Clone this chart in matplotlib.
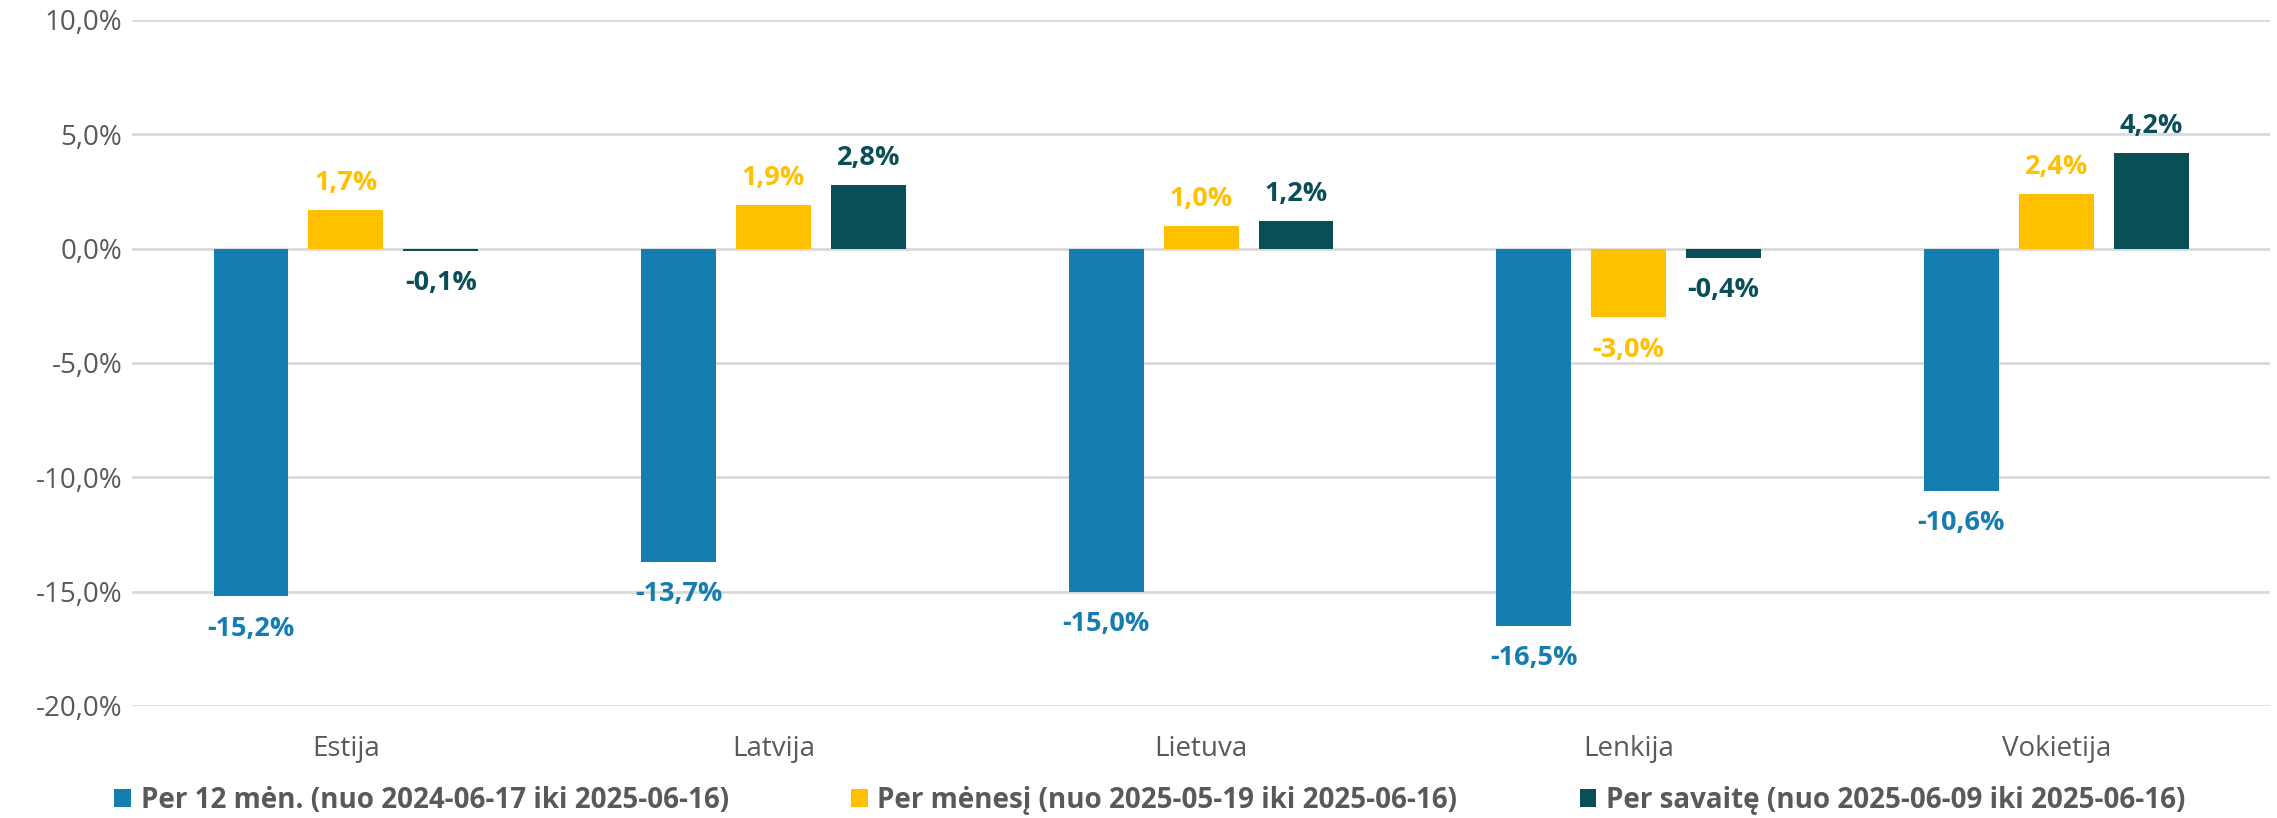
import numpy as np
import matplotlib
matplotlib.use("Agg")
import matplotlib.pyplot as plt
from matplotlib.ticker import FuncFormatter

plt.rcParams['font.family'] = ['Open Sans', 'DejaVu Sans']

# data
countries = ["Estija", "Latvija", "Lietuva", "Lenkija", "Vokietija"]
per_12m = [-15.2, -13.7, -15.0, -16.5, -10.6]
per_month = [1.7, 1.9, 1.0, -3.0, 2.4]
per_week = [-0.1, 2.8, 1.2, -0.4, 4.2]
series_names = [
    "Per 12 mėn. (nuo 2024-06-17 iki 2025-06-16)",
    "Per mėnesį (nuo 2025-05-19 iki 2025-06-16)",
    "Per savaitę (nuo 2025-06-09 iki 2025-06-16)",
]
colors = ["#157DB0", "#FFC000", "#0A4F57"]

def pct(v):
    return f"{v:.1f}%".replace(".", ",")

fig = plt.figure(figsize=(22.77, 8.18), dpi=100)
ax = fig.add_axes([0.058, 0.137, 0.939, 0.8386])

x = np.arange(len(countries))
width = 0.175
step = 0.222
series = [per_12m, per_month, per_week]

for i, (vals, col, name) in enumerate(zip(series, colors, series_names)):
    pos = x + (i - 1) * step
    ax.bar(pos, vals, width, color=col, label=name, zorder=3)
    for p, v in zip(pos, vals):
        if v >= 0:
            ax.annotate(pct(v), (p, v), xytext=(0, 10), textcoords="offset points",
                        ha="center", va="bottom", fontsize=19.5, fontweight="bold", color=col)
        else:
            ax.annotate(pct(v), (p, v), xytext=(0, -14), textcoords="offset points",
                        ha="center", va="top", fontsize=19.5, fontweight="bold", color=col)

ax.set_xlim(-0.5, len(countries) - 0.5)
ax.set_ylim(-20, 10)
ax.set_yticks(np.arange(-20, 10.1, 5))
ax.yaxis.set_major_formatter(FuncFormatter(lambda v, _: pct(v)))
ax.set_xticks(x)
ax.set_xticklabels(countries)
ax.tick_params(axis="both", length=0, labelsize=20, colors="#595959")
ax.tick_params(axis="x", pad=21)
ax.tick_params(axis="y", pad=7)
ax.grid(axis="y", color="#D9D9D9", linewidth=2, zorder=0)
for s in ax.spines.values():
    s.set_visible(False)

leg = fig.legend(loc="center", bbox_to_anchor=(0.505, 0.022), ncol=3, frameon=False,
                 handlelength=0.6, handleheight=0.6, handletextpad=0.35, columnspacing=4.4,
                 prop={"size": 20, "weight": "bold"})
for t in leg.get_texts():
    t.set_color("#595959")

fig.savefig("out.png", dpi=100)
